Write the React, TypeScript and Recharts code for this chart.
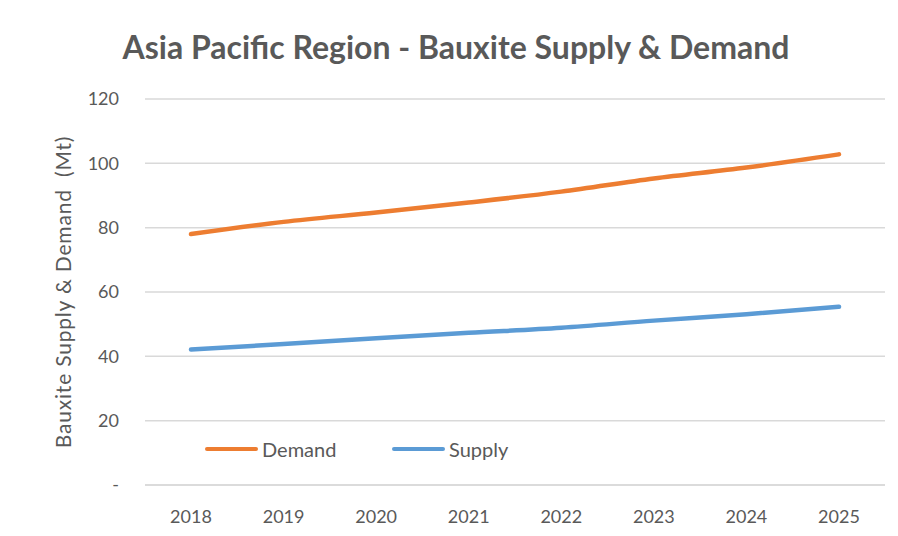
import { LineChart, Line, XAxis, YAxis, CartesianGrid, Legend, Label } from "recharts";

const years = ["2018", "2019", "2020", "2021", "2022", "2023", "2024", "2025"];
const demand = [78.0, 81.8, 84.7, 87.8, 91.2, 95.3, 98.7, 102.8];
const supply = [42.1, 43.8, 45.6, 47.3, 48.9, 51.1, 53.1, 55.4];
const yTicks = [0, 20, 40, 60, 80, 100, 120];

const data = years.map((year, i) => ({ year, Demand: demand[i], Supply: supply[i] }));

const FONT = "Lato, 'Open Sans', sans-serif";
const TEXT = "#595959";

function YTitle({ viewBox }: any) {
  const x = viewBox.x + 17;
  const y = viewBox.y + viewBox.height / 2;
  return (
    <text
      x={x}
      y={y}
      transform={`rotate(-90 ${x} ${y})`}
      textAnchor="middle"
      dominantBaseline="central"
      fill={TEXT}
      fontFamily={FONT}
      fontSize={21}
      letterSpacing={0.8}
      style={{ whiteSpace: "pre" }}
    >
      {"Bauxite Supply & Demand  (Mt)"}
    </text>
  );
}

function LegendBox({ payload }: any) {
  return (
    <div style={{ display: "flex", fontFamily: FONT, fontSize: 20, color: TEXT }}>
      {(payload || []).map((p: any) => (
        <div key={p.value} style={{ width: 187, display: "flex", alignItems: "center" }}>
          <span style={{ width: 53, height: 4.5, borderRadius: 3, background: p.color, marginRight: 4 }} />
          <span>{p.value}</span>
        </div>
      ))}
    </div>
  );
}

export default function App() {
  return (
    <div style={{ position: "relative", width: 890, height: 528 }}>
      <div
        style={{
          position: "absolute",
          left: -1,
          top: -1,
          width: 890,
          height: 528,
          borderTop: "1px solid #d9d9d9",
          borderLeft: "1px solid #d9d9d9",
          pointerEvents: "none",
        }}
      />
      <div
        style={{
          position: "absolute",
          left: 0,
          top: 22,
          width: 896,
          textAlign: "center",
          fontFamily: FONT,
          fontWeight: 700,
          fontSize: 32,
          lineHeight: "34px",
          color: TEXT,
        }}
      >
        Asia Pacific Region - Bauxite Supply &amp; Demand
      </div>
      <LineChart width={890} height={528} data={data} margin={{ top: 91, right: 13, bottom: 11, left: 37 }}>
        <CartesianGrid vertical={false} stroke="#d9d9d9" strokeWidth={1.5} />
        <XAxis
          dataKey="year"
          height={40}
          padding={{ left: 46, right: 46 }}
          axisLine={{ stroke: "#d9d9d9", strokeWidth: 1.5 }}
          tickLine={false}
          tickSize={0}
          tickMargin={25}
          tick={{ fill: TEXT, fontSize: 18, fontFamily: FONT }}
        />
        <YAxis
          width={100}
          domain={[0, 120]}
          ticks={yTicks}
          axisLine={false}
          tickLine={false}
          tickSize={0}
          tickMargin={26}
          tickFormatter={(v: number) => (v === 0 ? "-" : String(v))}
          tick={{ fill: TEXT, fontSize: 18, fontFamily: FONT }}
        >
          <Label content={<YTitle />} />
        </YAxis>
        <Legend
          layout="horizontal"
          verticalAlign="middle"
          content={<LegendBox />}
          wrapperStyle={{ position: "absolute", left: 197, top: 429, width: 400 }}
        />
        <Line
          type="monotone"
          dataKey="Demand"
          stroke="#ED7D31"
          strokeWidth={4.5}
          strokeLinecap="round"
          dot={false}
          isAnimationActive={false}
        />
        <Line
          type="monotone"
          dataKey="Supply"
          stroke="#5B9BD5"
          strokeWidth={4.5}
          strokeLinecap="round"
          dot={false}
          isAnimationActive={false}
        />
      </LineChart>
    </div>
  );
}
